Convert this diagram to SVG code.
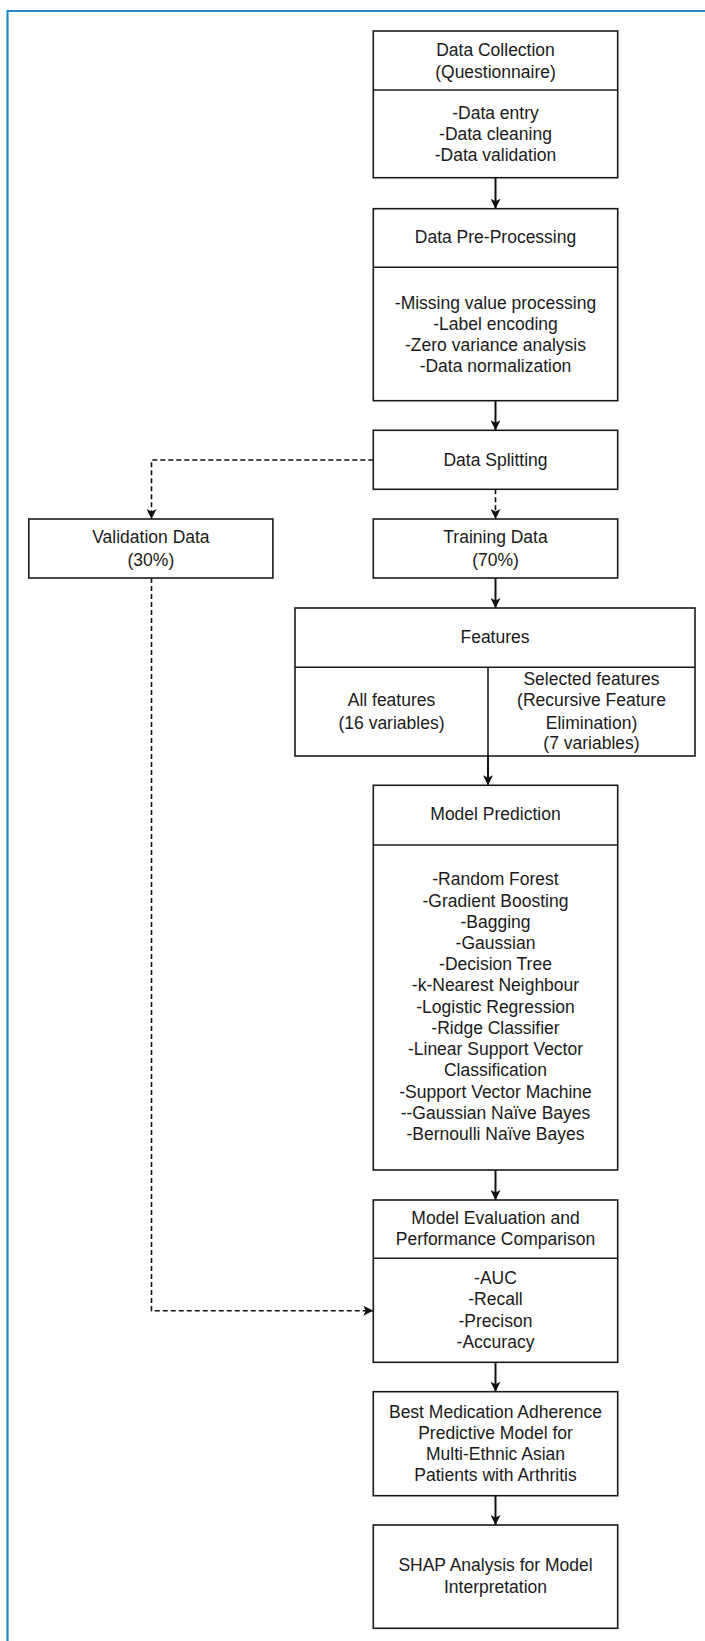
<svg xmlns="http://www.w3.org/2000/svg" width="705" height="1641" viewBox="0 0 705 1641">
<style>
.box{fill:#fff;stroke:#1a1a1a;stroke-width:1.6}
.div{stroke:#1a1a1a;stroke-width:1.6;fill:none}
.t{font-family:"Liberation Sans",Arial,sans-serif;font-size:17.5px;fill:#1a1a1a;text-anchor:middle}
.c{stroke:#111;stroke-width:2;fill:none}
.d{stroke:#111;stroke-width:1.6;fill:none;stroke-dasharray:5 3}
</style>
<defs>
<marker id="ah" viewBox="0 0 10 10" refX="10" refY="5" markerWidth="10" markerHeight="10" markerUnits="userSpaceOnUse" orient="auto">
<path d="M0,0 L10,5 L0,10 L2.5,5 z" fill="#111"/>
</marker>
</defs>
<rect width="705" height="1641" fill="#fff"/>
<path d="M7.5,1641 V11 H705" fill="none" stroke="#2589c9" stroke-width="2.2"/>

<g id="connectors">
<line class="c" x1="495.5" y1="177.7" x2="495.5" y2="208.7" marker-end="url(#ah)"/>
<line class="c" x1="495.5" y1="400.7" x2="495.5" y2="430.3" marker-end="url(#ah)"/>
<line class="d" x1="495.5" y1="489.3" x2="495.5" y2="519" marker-end="url(#ah)"/>
<path class="d" d="M373.3,460 H151.5 V519" marker-end="url(#ah)"/>
<line class="c" x1="495.5" y1="578" x2="495.5" y2="608" marker-end="url(#ah)"/>
<line class="c" x1="488" y1="756" x2="488" y2="785.3" marker-end="url(#ah)"/>
<line class="c" x1="495.5" y1="1170" x2="495.5" y2="1200" marker-end="url(#ah)"/>
<path class="d" d="M151.5,578 V1310.7 H373.3" marker-end="url(#ah)"/>
<line class="c" x1="495.5" y1="1362.3" x2="495.5" y2="1391.7" marker-end="url(#ah)"/>
<line class="c" x1="495.5" y1="1495.7" x2="495.5" y2="1525" marker-end="url(#ah)"/>
</g>

<g id="data-collection">
<rect class="box" x="373.3" y="31" width="244.4" height="146.7"/>
<line class="div" x1="373.3" y1="90" x2="617.7" y2="90"/>
<text class="t" x="495.5" y="55.5">Data Collection</text>
<text class="t" x="495.5" y="77.8">(Questionnaire)</text>
<text class="t" x="495.5" y="119.3">-Data entry</text>
<text class="t" x="495.5" y="140.2">-Data cleaning</text>
<text class="t" x="495.5" y="161.3">-Data validation</text>
</g>

<g id="data-preprocessing">
<rect class="box" x="373.3" y="208.7" width="244.4" height="192"/>
<line class="div" x1="373.3" y1="267.3" x2="617.7" y2="267.3"/>
<text class="t" x="495.5" y="243.3">Data Pre-Processing</text>
<text class="t" x="495.5" y="308.7">-Missing value processing</text>
<text class="t" x="495.5" y="329.5">-Label encoding</text>
<text class="t" x="495.5" y="350.7">-Zero variance analysis</text>
<text class="t" x="495.5" y="371.8">-Data normalization</text>
</g>

<g id="data-splitting">
<rect class="box" x="373.3" y="430.3" width="244.4" height="59"/>
<text class="t" x="495.5" y="466">Data Splitting</text>
</g>

<g id="validation-data">
<rect class="box" x="28.8" y="519" width="244.1" height="59"/>
<text class="t" x="150.9" y="543.3">Validation Data</text>
<text class="t" x="150.9" y="566">(30%)</text>
</g>

<g id="training-data">
<rect class="box" x="373.3" y="519" width="244.4" height="59"/>
<text class="t" x="495.5" y="543.3">Training Data</text>
<text class="t" x="495.5" y="566">(70%)</text>
</g>

<g id="features">
<rect class="box" x="295" y="608" width="400" height="148"/>
<line class="div" x1="295" y1="667.3" x2="695" y2="667.3"/>
<line class="div" x1="488" y1="667.3" x2="488" y2="756"/>
<text class="t" x="495" y="642.7">Features</text>
<text class="t" x="391.5" y="706">All features</text>
<text class="t" x="391.5" y="728.7">(16 variables)</text>
<text class="t" x="591.5" y="685">Selected features</text>
<text class="t" x="591.5" y="706">(Recursive Feature</text>
<text class="t" x="591.5" y="728.7">Elimination)</text>
<text class="t" x="591.5" y="749.3">(7 variables)</text>
</g>

<g id="model-prediction">
<rect class="box" x="373.3" y="785.3" width="244.4" height="384.7"/>
<line class="div" x1="373.3" y1="845" x2="617.7" y2="845"/>
<text class="t" x="495.5" y="820">Model Prediction</text>
<text class="t" x="495.5" y="885.3">-Random Forest</text>
<text class="t" x="495.5" y="906.5">-Gradient Boosting</text>
<text class="t" x="495.5" y="927.7">-Bagging</text>
<text class="t" x="495.5" y="948.9">-Gaussian</text>
<text class="t" x="495.5" y="970.2">-Decision Tree</text>
<text class="t" x="495.5" y="991.4">-k-Nearest Neighbour</text>
<text class="t" x="495.5" y="1012.6">-Logistic Regression</text>
<text class="t" x="495.5" y="1033.8">-Ridge Classifier</text>
<text class="t" x="495.5" y="1055.1">-Linear Support Vector</text>
<text class="t" x="495.5" y="1076.3">Classification</text>
<text class="t" x="495.5" y="1097.5">-Support Vector Machine</text>
<text class="t" x="495.5" y="1118.7">--Gaussian Naïve Bayes</text>
<text class="t" x="495.5" y="1140">-Bernoulli Naïve Bayes</text>
</g>

<g id="model-evaluation">
<rect class="box" x="373.3" y="1200" width="244.4" height="162.3"/>
<line class="div" x1="373.3" y1="1258.3" x2="617.7" y2="1258.3"/>
<text class="t" x="495.5" y="1224">Model Evaluation and</text>
<text class="t" x="495.5" y="1245.3">Performance Comparison</text>
<text class="t" x="495.5" y="1284.3">-AUC</text>
<text class="t" x="495.5" y="1305.3">-Recall</text>
<text class="t" x="495.5" y="1327">-Precison</text>
<text class="t" x="495.5" y="1347.7">-Accuracy</text>
</g>

<g id="best-model">
<rect class="box" x="373.3" y="1391.7" width="244.4" height="104"/>
<text class="t" x="495.5" y="1417.7">Best Medication Adherence</text>
<text class="t" x="495.5" y="1438.7">Predictive Model for</text>
<text class="t" x="495.5" y="1460">Multi-Ethnic Asian</text>
<text class="t" x="495.5" y="1481">Patients with Arthritis</text>
</g>

<g id="shap-analysis">
<rect class="box" x="373.3" y="1525" width="244.4" height="103.3"/>
<text class="t" x="495.5" y="1571">SHAP Analysis for Model</text>
<text class="t" x="495.5" y="1592.7">Interpretation</text>
</g>
</svg>
